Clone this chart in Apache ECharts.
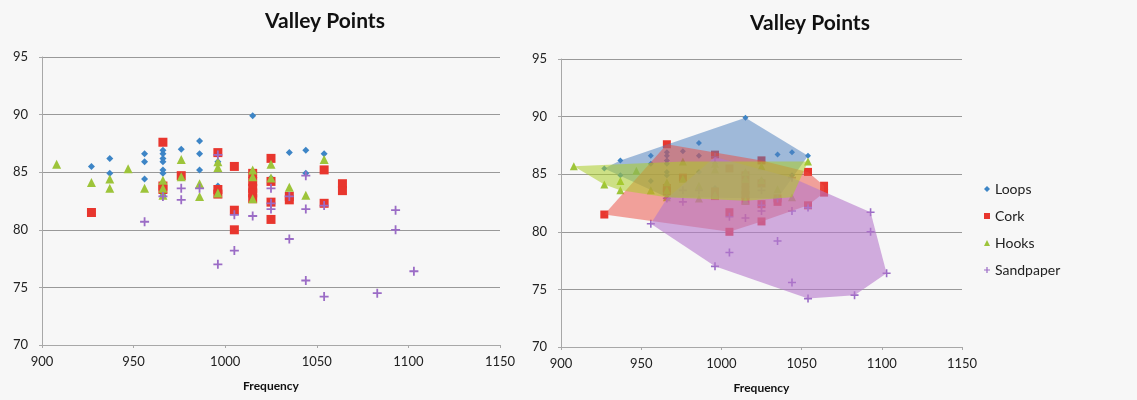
<!DOCTYPE html>
<html>
<head>
<meta charset="utf-8">
<script src="https://cdn.jsdelivr.net/npm/echarts@6/dist/echarts.min.js"></script>
<style>
  html, body { margin: 0; padding: 0; background: #f7f7f7; }
  #chart { width: 1137px; height: 400px; }
</style>
</head>
<body>
<div id="chart"></div>
<script>
// [frequency, valley level]
var loops = [
  [927, 85.5], [937, 86.2], [937, 84.9], [956, 86.6], [956, 85.9], [956, 84.4],
  [966, 86.9], [966, 86.6], [966, 86.2], [966, 85.9], [966, 85.2], [966, 84.9], [966, 83.0],
  [976, 87.0], [986, 87.7], [986, 86.6], [986, 85.2], [996, 85.9], [996, 83.8],
  [1015, 89.9], [1025, 84.5], [1035, 86.7], [1035, 82.9], [1044, 86.9], [1044, 84.9], [1054, 86.6]
];
var cork = [
  [927, 81.5], [966, 87.6], [966, 83.8], [966, 83.5], [976, 84.7],
  [996, 86.7], [996, 83.5], [996, 83.1], [1005, 85.5], [1005, 81.7], [1005, 80.0],
  [1015, 84.9], [1015, 84.2], [1015, 83.6], [1015, 83.2], [1015, 82.7],
  [1025, 86.2], [1025, 84.2], [1025, 82.4], [1025, 80.9],
  [1035, 82.9], [1035, 82.6], [1054, 85.2], [1054, 82.3], [1064, 84.0], [1064, 83.4]
];
var hooks = [
  [908, 85.7], [927, 84.1], [937, 84.4], [937, 83.6], [947, 85.3], [956, 83.6],
  [966, 84.3], [966, 83.6], [966, 83.0], [976, 86.1], [976, 84.6], [986, 84.0], [986, 82.9],
  [996, 85.9], [996, 85.4], [996, 83.2], [1015, 85.2], [1015, 84.6], [1015, 82.7],
  [1025, 85.7], [1025, 84.5], [1035, 83.7], [1044, 83.0], [1054, 86.1]
];
var sandpaper = [
  [956, 80.7], [966, 82.9], [976, 83.6], [976, 82.6], [986, 83.6], [996, 86.5], [996, 77.0],
  [1005, 81.3], [1005, 78.2], [1015, 81.2], [1025, 83.6], [1025, 82.3], [1025, 81.8],
  [1035, 82.9], [1035, 79.2], [1044, 84.7], [1044, 81.8], [1044, 75.6],
  [1054, 82.1], [1054, 74.2], [1083, 74.5], [1093, 81.7], [1093, 80.0], [1103, 76.4]
];
var seriesNames = ['Loops', 'Cork', 'Hooks', 'Sandpaper'];
var xTicks = [900, 1150, 50];
var yTicks = [70, 95, 5];

var colors = ['#3d85c6', '#e8362e', '#9dc43a', '#9b6cc6'];
var fills = ['rgba(79,129,189,0.52)', 'rgba(236,74,62,0.5)', 'rgba(172,206,40,0.55)', 'rgba(182,120,204,0.6)'];
var plusPath = 'path://M4,0H6V4H10V6H6V10H4V6H0V4H4Z';
var symbols = ['diamond', 'rect', 'triangle', plusPath];
var sizes = [7, 9, 9, 9];
var allData = [loops, cork, hooks, sandpaper];

// convex hull (monotone chain) used for the shaded regions
function hull(pts) {
  var p = pts.slice().sort(function (a, b) { return a[0] - b[0] || a[1] - b[1]; });
  function cross(o, a, b) { return (a[0] - o[0]) * (b[1] - o[1]) - (a[1] - o[1]) * (b[0] - o[0]); }
  var lower = [], upper = [];
  p.forEach(function (q) {
    while (lower.length >= 2 && cross(lower[lower.length - 2], lower[lower.length - 1], q) <= 0) lower.pop();
    lower.push(q);
  });
  for (var i = p.length - 1; i >= 0; i--) {
    var q = p[i];
    while (upper.length >= 2 && cross(upper[upper.length - 2], upper[upper.length - 1], q) <= 0) upper.pop();
    upper.push(q);
  }
  upper.pop(); lower.pop();
  return lower.concat(upper);
}

var axisLabel = { color: '#222', fontSize: 13, fontFamily: 'Lato', formatter: function (v) { return String(v); } };
function xAxis(i) {
  return {
    gridIndex: i, type: 'value', min: xTicks[0], max: xTicks[1], interval: xTicks[2],
    name: 'Frequency', nameLocation: 'middle', nameGap: 35,
    nameTextStyle: { fontWeight: 'bold', fontSize: 12, color: '#111', fontFamily: 'Lato' },
    axisLine: { lineStyle: { color: '#a8a8a8' } },
    axisTick: { show: true, length: 3, lineStyle: { color: '#a8a8a8' } },
    splitLine: { show: false },
    axisLabel: Object.assign({ margin: 10 }, axisLabel)
  };
}
function yAxis(i) {
  return {
    gridIndex: i, type: 'value', min: yTicks[0], max: yTicks[1], interval: yTicks[2],
    axisLine: { show: true, lineStyle: { color: '#a8a8a8' } },
    axisTick: { show: true, length: 3, lineStyle: { color: '#a8a8a8' } },
    splitLine: { lineStyle: { color: '#999', width: 1 } },
    axisLabel: Object.assign({ margin: 14 }, axisLabel)
  };
}

var series = [];
// points on both panels
[0, 1].forEach(function (g) {
  allData.forEach(function (d, k) {
    series.push({
      type: 'scatter', name: seriesNames[k], xAxisIndex: g, yAxisIndex: g, z: 2,
      symbol: symbols[k], symbolSize: g === 0 ? sizes[k] : sizes[k] - 1,
      itemStyle: { color: colors[k], opacity: 1 },
      data: d
    });
  });
});
// shaded regions on the right panel, laid over the points
[0, 1, 3, 2].forEach(function (k) {
  var h = hull(allData[k]);
  series.push({
    type: 'custom', name: seriesNames[k] + ' area', xAxisIndex: 1, yAxisIndex: 1, z: 3,
    silent: true,
    data: h,
    renderItem: function (params, api) {
      if (params.dataIndex !== 0) return;
      return {
        type: 'polygon',
        shape: { points: h.map(function (p) { return api.coord(p); }) },
        style: { fill: fills[k], stroke: null }
      };
    }
  });
});

var chart = echarts.init(document.getElementById('chart'), null, { renderer: 'canvas' });
chart.setOption({
  backgroundColor: '#f7f7f7',
  animation: false,
  title: [
    { text: 'Valley Points', left: 320, top: 6, textAlign: 'center',
      textStyle: { fontSize: 21, fontWeight: 'bold', color: '#111', fontFamily: 'Lato' } },
    { text: 'Valley Points', left: 805, top: 8, textAlign: 'center',
      textStyle: { fontSize: 21, fontWeight: 'bold', color: '#111', fontFamily: 'Lato' } }
  ],
  legend: {
    orient: 'vertical', left: 979, top: 177, itemGap: 13,
    itemWidth: 6, itemHeight: 6,
    data: seriesNames.map(function (n, k) { return { name: n, icon: symbols[k] }; }),
    textStyle: { fontSize: 14, color: '#222', fontFamily: 'Lato' }
  },
  grid: [
    { left: 42, top: 57, width: 458, height: 288 },
    { left: 561, top: 59, width: 401, height: 288 }
  ],
  xAxis: [xAxis(0), xAxis(1)],
  yAxis: [yAxis(0), yAxis(1)],
  series: series
});
</script>
</body>
</html>
